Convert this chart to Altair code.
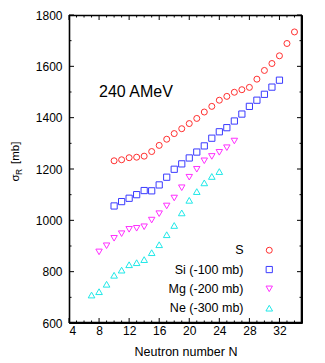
import altair as alt
import pandas as pd

# ---- data ----
series_names = ["S", "Si (-100 mb)", "Mg (-200 mb)", "Ne (-300 mb)"]

S_N = list(range(10, 35))
S_val = [1232, 1236, 1244, 1246, 1250, 1268, 1292, 1316, 1338, 1357, 1377, 1397, 1422,
         1444, 1468, 1483, 1499, 1509, 1518, 1550, 1584, 1611, 1641, 1689, 1734]
Si_N = list(range(10, 33))
Si_val = [1056, 1073, 1086, 1100, 1116, 1115, 1138, 1168, 1199, 1220, 1243, 1266, 1290,
          1320, 1345, 1361, 1387, 1414, 1444, 1468, 1491, 1519, 1546]
Mg_N = list(range(8, 27))
Mg_val = [877, 901, 930, 948, 965, 969, 975, 1001, 1026, 1056, 1087, 1127, 1168, 1199,
          1232, 1249, 1265, 1283, 1309]
Ne_N = list(range(7, 25))
Ne_val = [709, 722, 751, 786, 806, 827, 835, 847, 874, 905, 944, 980, 1029, 1078, 1112,
          1146, 1171, 1190]

x_major = [4, 8, 12, 16, 20, 24, 28, 32]
x_minor = [v for v in range(5, 35) if v % 4 != 0]
y_major = [600, 800, 1000, 1200, 1400, 1600, 1800]
y_minor = [700, 900, 1100, 1300, 1500, 1700]
x_domain = [4, 35]
y_domain = [600, 1800]

annotation_text = ["240 AMeV"]
annotation_N = [8.0]
annotation_val = [1479]

# ---- styling ----
FONT = "Liberation Sans"
colors = ["#ff3030", "#3a3aff", "#ff30ff", "#20e8e8"]
shapes = ["circle", "square", "triangle-down", "triangle-up"]
sizes = [36, 44, 46, 46]
W, H = 233, 308
MAJ, MIN = 5, 2.5

rows = []
for name, ns, vs in zip(series_names, [S_N, Si_N, Mg_N, Ne_N], [S_val, Si_val, Mg_val, Ne_val]):
    for n, v in zip(ns, vs):
        rows.append({"series": name, "N": n, "value": v})
df = pd.DataFrame(rows)

xscale = alt.Scale(domain=x_domain, nice=False, zero=False)
yscale = alt.Scale(domain=y_domain, nice=False, zero=False)

x_axis = alt.Axis(values=x_major, title="Neutron number N", ticks=False,
                  domain=False, grid=False, labelPadding=2, labelFontSize=12,
                  titleFontSize=12.5, titlePadding=9, labelFont=FONT, format="d",
                  titleFont=FONT, labelColor="black", titleColor="black",
                  titleFontWeight="normal")
y_axis = alt.Axis(values=y_major, title=None, ticks=False, domain=False,
                  grid=False, labelPadding=7, labelFontSize=12, format="d",
                  labelFont=FONT, labelColor="black")

legend = alt.Legend(
    title=None, orient="none", legendX=194, legendY=229,
    labelAlign="right", labelOffset=alt.ExprRef(expr="-32"), labelFont=FONT,
    labelFontSize=12.5, labelColor="black", symbolSize=22, symbolStrokeWidth=1,
    rowPadding=6.3, padding=0,
)

# plot frame (border box) spanning the full scale domains, drawn as four rules
frame_df = pd.DataFrame({"N": [x_domain[0]], "N2": [x_domain[1]],
                         "value": [y_domain[0]], "value2": [y_domain[1]]})
fb = alt.Chart(frame_df).mark_rule(color="#000000", strokeWidth=1.6, opacity=1)
frame = [
    fb.encode(x=alt.X("N:Q", scale=xscale, axis=x_axis), x2="N2:Q", y=alt.value(0.5)),
    fb.encode(x=alt.X("N:Q", scale=xscale, axis=x_axis), x2="N2:Q", y=alt.value(H - 0.5)),
    fb.encode(y=alt.Y("value:Q", scale=yscale, axis=y_axis), y2="value2:Q", x=alt.value(0.5)),
    fb.encode(y=alt.Y("value:Q", scale=yscale, axis=y_axis), y2="value2:Q", x=alt.value(W - 0.5)),
]

points = alt.Chart(df).mark_point(filled=False, strokeWidth=1, opacity=1).encode(
    x=alt.X("N:Q", scale=xscale, axis=x_axis),
    y=alt.Y("value:Q", scale=yscale, axis=y_axis),
    color=alt.Color("series:N", scale=alt.Scale(domain=series_names, range=colors),
                    legend=legend, sort=series_names),
    shape=alt.Shape("series:N", scale=alt.Scale(domain=series_names, range=shapes),
                    legend=legend, sort=series_names),
    size=alt.Size("series:N", scale=alt.Scale(domain=series_names, range=sizes),
                  legend=None),
)

ann = alt.Chart(pd.DataFrame({"N": annotation_N, "value": annotation_val,
                              "t": annotation_text})).mark_text(
    align="left", baseline="alphabetic", fontSize=16, font=FONT, color="black"
).encode(
    x=alt.X("N:Q", scale=xscale, axis=x_axis),
    y=alt.Y("value:Q", scale=yscale, axis=y_axis),
    text="t:N",
)

def xticks(vals, length):
    d = pd.DataFrame({"N": vals})
    base = alt.Chart(d).mark_rule(color="black", strokeWidth=1)
    bottom = base.encode(x=alt.X("N:Q", scale=xscale, axis=x_axis),
                         y=alt.value(H), y2=alt.value(H - length))
    top = base.encode(x=alt.X("N:Q", scale=xscale, axis=x_axis),
                      y=alt.value(0), y2=alt.value(length))
    return [bottom, top]

def yticks(vals, length):
    d = pd.DataFrame({"value": vals})
    base = alt.Chart(d).mark_rule(color="black", strokeWidth=1)
    left = base.encode(y=alt.Y("value:Q", scale=yscale, axis=y_axis),
                       x=alt.value(0), x2=alt.value(length))
    right = base.encode(y=alt.Y("value:Q", scale=yscale, axis=y_axis),
                        x=alt.value(W), x2=alt.value(W - length))
    return [left, right]

tick_layers = xticks(x_major, MAJ) + xticks(x_minor, MIN) + yticks(y_major, MAJ) + yticks(y_minor, MIN)

# y-axis title with subscript, built from text pieces
def tpiece(txt, size, xv, yv):
    return alt.Chart(pd.DataFrame({"t": [txt]})).mark_text(
        angle=270, align="left", baseline="alphabetic", fontSize=size, font=FONT,
        color="black"
    ).encode(text="t:N", x=alt.value(xv), y=alt.value(yv))

ytitle = [
    tpiece("σ", 11.5, -50.5, 166.5),
    tpiece("R", 8.5, -47.5, 160),
    tpiece("[mb]", 11.5, -50.5, 149),
]

chart = alt.layer(points, *frame, ann, *tick_layers, *ytitle).properties(
    width=W, height=H,
    padding={"left": 61, "top": 7, "right": 15, "bottom": 39},
    autosize=alt.AutoSizeParams(type="none"),
).configure(background="white").configure_view(stroke="black", strokeWidth=1)

chart.save("out.html", embed_options={"renderer": "svg", "actions": False})
